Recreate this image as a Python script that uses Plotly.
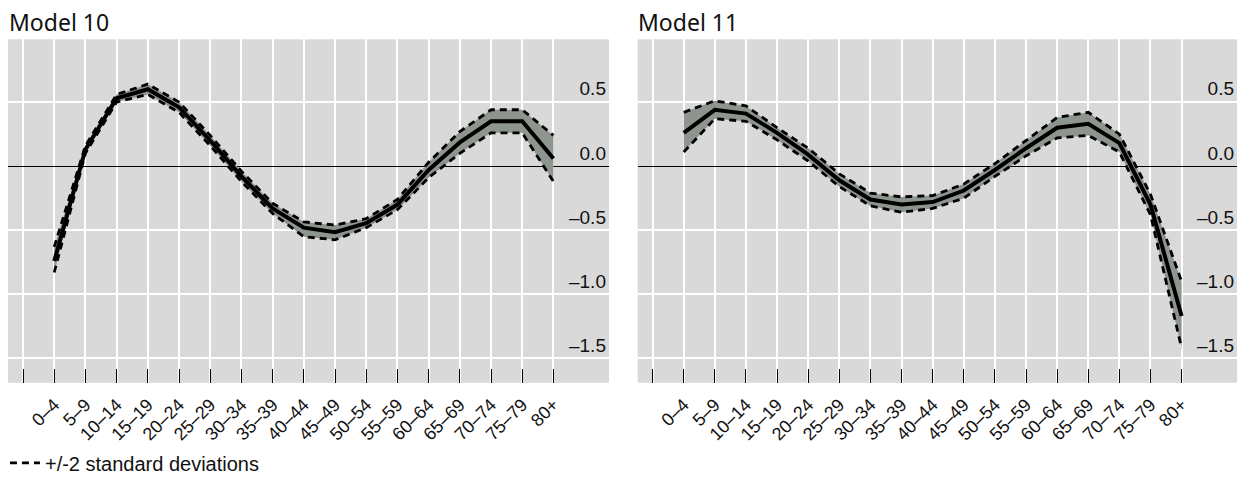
import plotly.graph_objects as go

age_groups = ["0–4", "5–9", "10–14", "15–19", "20–24", "25–29", "30–34", "35–39",
              "40–44", "45–49", "50–54", "55–59", "60–64", "65–69", "70–74", "75–79", "80+"]

# Model 10: estimated effect with lower / upper bounds (+/-2 SD)
m10_mean = [-0.74, 0.13, 0.53, 0.60, 0.46, 0.20, -0.08, -0.33, -0.48, -0.515, -0.445,
            -0.30, -0.03, 0.185, 0.35, 0.35, 0.06]
m10_lower = [-0.83, 0.10, 0.50, 0.56, 0.42, 0.16, -0.12, -0.37, -0.55, -0.575, -0.48,
             -0.34, -0.09, 0.10, 0.26, 0.26, -0.12]
m10_upper = [-0.63, 0.16, 0.56, 0.64, 0.50, 0.24, -0.04, -0.29, -0.435, -0.46, -0.41,
             -0.26, 0.03, 0.27, 0.44, 0.44, 0.24]

# Model 11
m11_mean = [0.26, 0.44, 0.41, 0.26, 0.09, -0.11, -0.26, -0.30, -0.28, -0.19, -0.03,
            0.14, 0.30, 0.33, 0.18, -0.30, -1.17]
m11_lower = [0.11, 0.37, 0.35, 0.205, 0.04, -0.16, -0.31, -0.36, -0.33, -0.25, -0.08,
             0.08, 0.22, 0.24, 0.11, -0.38, -1.42]
m11_upper = [0.42, 0.51, 0.47, 0.30, 0.14, -0.06, -0.21, -0.24, -0.23, -0.14, 0.02,
             0.20, 0.38, 0.42, 0.25, -0.22, -0.90]

y_ticks = [-1.5, -1.0, -0.5, 0.0, 0.5]
y_tick_text = ["–1.5", "–1.0", "–0.5", "0.0", "0.5"]

BAND = "#8e958e"
PANEL_BG = "#d9d9d9"
LABEL_FONT = "Liberation Sans, Arial, sans-serif"
TITLE_FONT = "Noto Sans, sans-serif"
DASH = "7px,5px"

fig = go.Figure()
x_idx = list(range(len(age_groups)))

panels = [
    ("x", "y", m10_mean, m10_lower, m10_upper),
    ("x2", "y2", m11_mean, m11_lower, m11_upper),
]

for k, (xa, ya, mean, lower, upper) in enumerate(panels):
    fig.add_trace(go.Scatter(x=x_idx, y=lower, xaxis=xa, yaxis=ya, mode="lines",
                             line=dict(width=0), showlegend=False, hoverinfo="skip"))
    fig.add_trace(go.Scatter(x=x_idx, y=upper, xaxis=xa, yaxis=ya, mode="lines",
                             line=dict(width=0), fill="tonexty", fillcolor=BAND,
                             showlegend=False, hoverinfo="skip"))
    fig.add_trace(go.Scatter(x=x_idx, y=lower, xaxis=xa, yaxis=ya, mode="lines",
                             line=dict(color="black", width=2.8, dash=DASH),
                             showlegend=False))
    fig.add_trace(go.Scatter(x=x_idx, y=upper, xaxis=xa, yaxis=ya, mode="lines",
                             line=dict(color="black", width=2.8, dash=DASH),
                             name="+/-2 standard deviations", showlegend=(k == 0)))
    fig.add_trace(go.Scatter(x=x_idx, y=mean, xaxis=xa, yaxis=ya, mode="lines",
                             line=dict(color="black", width=4), showlegend=False))

tick_vals = list(range(-1, len(age_groups)))
tick_text = [""] + age_groups

x_common = dict(
    range=[-1.48, 17.78], tickmode="array", tickvals=tick_vals, ticktext=tick_text,
    tickangle=-45, ticks="inside", ticklen=14, tickcolor="black", tickwidth=1.2,
    showgrid=True, gridcolor="white", gridwidth=1.5, zeroline=False,
    showline=False, tickfont=dict(family=LABEL_FONT, size=18, color="#111"),
    ticklabelstandoff=7, fixedrange=True,
)
y_common = dict(
    range=[-1.69, 0.99], tickmode="array", tickvals=y_ticks, ticktext=y_tick_text,
    side="right", ticklabelposition="inside top", ticks="",
    showgrid=True, gridcolor="white", gridwidth=1.5,
    zeroline=True, zerolinecolor="black", zerolinewidth=1,
    tickfont=dict(family=LABEL_FONT, size=19, color="#111"),
    domain=[0.2237, 0.9203], fixedrange=True,
)

fig.update_layout(
    width=1237, height=493,
    margin=dict(l=0, r=0, t=0, b=0),
    paper_bgcolor="white", plot_bgcolor=PANEL_BG,
    xaxis=dict(x_common, domain=[0.0065, 0.4923], anchor="y"),
    yaxis=dict(y_common, anchor="x"),
    xaxis2=dict(x_common, domain=[0.5155, 1.0], anchor="y2"),
    yaxis2=dict(y_common, anchor="x2"),
    showlegend=True,
    legend=dict(x=0.004, y=0.061, xanchor="left", yanchor="middle", orientation="h",
                font=dict(family=LABEL_FONT, size=20, color="#111"),
                bgcolor="rgba(0,0,0,0)", itemwidth=30),
    annotations=[
        dict(text="Model 10", x=0.0055, y=1.0, xref="paper", yref="paper",
             xanchor="left", yanchor="top", showarrow=False, yshift=-4,
             font=dict(family=TITLE_FONT, size=23, color="#111")),
        dict(text="Model 11", x=0.514, y=1.0, xref="paper", yref="paper",
             xanchor="left", yanchor="top", showarrow=False, yshift=-4,
             font=dict(family=TITLE_FONT, size=23, color="#111")),
    ],
)

fig.write_html("out.html")
